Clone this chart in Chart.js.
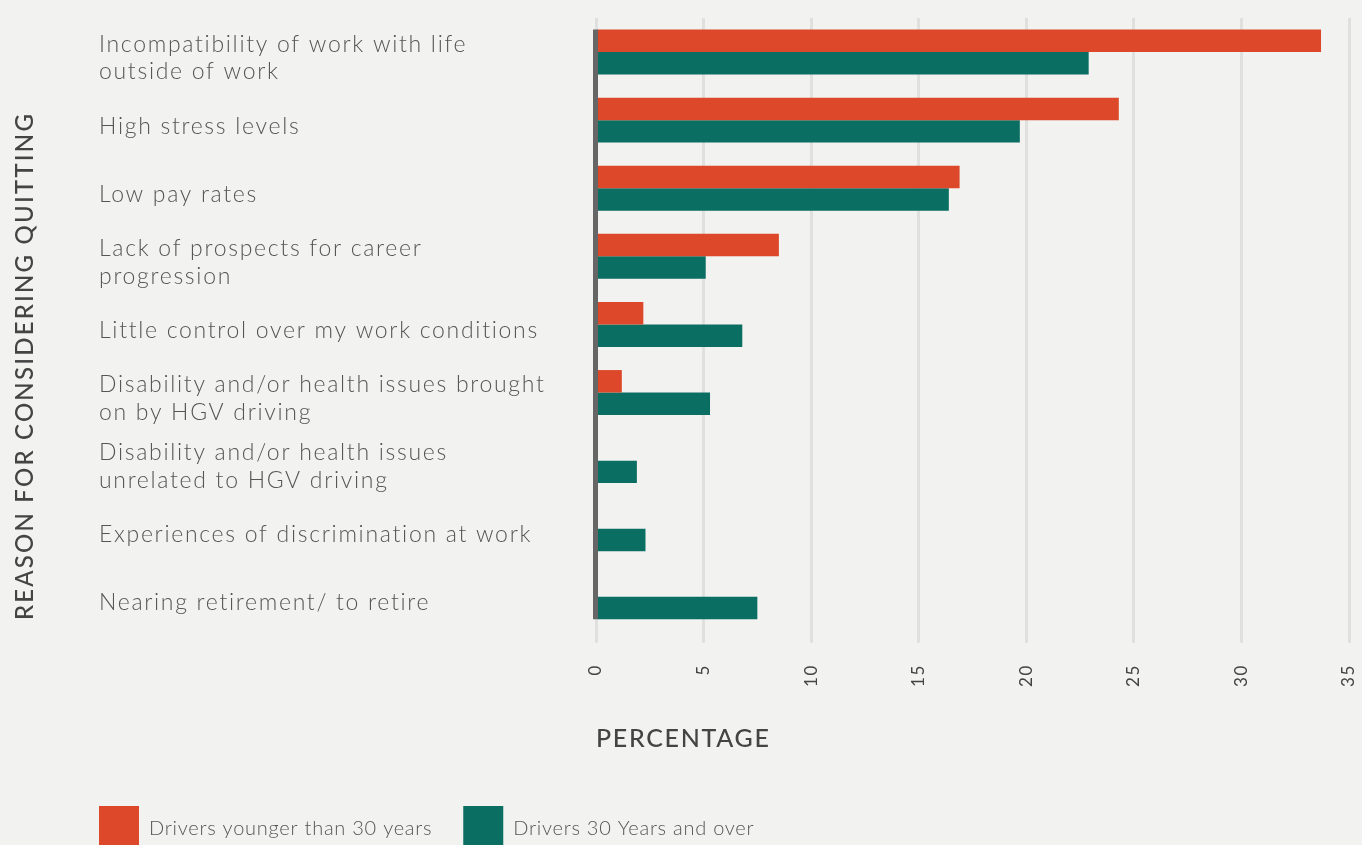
<!DOCTYPE html>
<html><head><meta charset="utf-8">
<script src="https://cdn.jsdelivr.net/npm/chart.js@4"></script>
<style>
html,body{margin:0;padding:0;background:#f2f2f0;overflow:hidden;}
#wrap{position:relative;width:1362px;height:862px;}
</style></head><body>
<div id="wrap"><canvas id="c" width="1362" height="862"></canvas></div>
<script>
const categories = [
  ["Incompatibility of work with life", "outside of work"],
  "High stress levels",
  "Low pay rates",
  ["Lack of prospects for career", "progression"],
  "Little control over my work conditions",
  ["Disability and/or health issues brought", "on by HGV driving"],
  ["Disability and/or health issues", "unrelated to HGV driving"],
  "Experiences of discrimination at work",
  "Nearing retirement/ to retire"
];
const seriesNames = ["Drivers younger than 30 years", "Drivers 30 Years and over"];
const under30 = [33.7, 24.3, 16.9, 8.5, 2.2, 1.2, 0, 0, 0];
const over30 = [22.9, 19.7, 16.4, 5.1, 6.8, 5.3, 1.9, 2.3, 7.5];
const xTicks = [0, 5, 10, 15, 20, 25, 30, 35];
const xTitle = "PERCENTAGE";
const yTitle = "REASON FOR CONSIDERING QUITTING";

const FONT = "Lato, 'Open Sans', sans-serif";
const LEGEND_PAD = 31;

function withSpacing(obj, name, spacing) {
  const orig = obj[name];
  obj[name] = function (...args) {
    const ctx = this.ctx;
    const prev = ctx.letterSpacing;
    ctx.letterSpacing = spacing;
    const r = orig.apply(this, args);
    ctx.letterSpacing = prev;
    return r;
  };
}

const spacingPlugin = {
  id: 'spacing',
  beforeUpdate(chart) {
    chart.ctx.letterSpacing = '1.7px';
    const lg = chart.legend;
    if (lg && !lg._spacingWrapped) {
      withSpacing(lg, 'fit', '0.75px');
      withSpacing(lg, 'draw', '0.75px');
      lg._spacingWrapped = true;
    }
  },
  beforeDraw(chart) { chart.ctx.letterSpacing = '1.7px'; },
  afterLayout(chart) { if (chart.legend) chart.legend.left -= LEGEND_PAD; }
};

// dark zero-axis line spanning the bars (from first bar top to last bar bottom)
const axisLinePlugin = {
  id: 'axisLine',
  afterDatasetsDraw(chart) {
    const first = chart.getDatasetMeta(0).data[0];
    const lastMeta = chart.getDatasetMeta(chart.data.datasets.length - 1).data;
    const last = lastMeta[lastMeta.length - 1];
    if (!first || !last) return;
    const x0 = chart.scales.x.getPixelForValue(0);
    const ctx = chart.ctx;
    ctx.save();
    ctx.strokeStyle = '#666';
    ctx.lineWidth = 5;
    ctx.beginPath();
    ctx.moveTo(x0 - 0.5, first.y - first.height / 2);
    ctx.lineTo(x0 - 0.5, last.y + last.height / 2);
    ctx.stroke();
    ctx.restore();
  }
};

const yTitlePlugin = {
  id: 'yTitle',
  afterDraw(chart) {
    const ctx = chart.ctx;
    ctx.save();
    ctx.letterSpacing = '2.2px';
    ctx.translate(25, 366);
    ctx.rotate(-Math.PI / 2);
    ctx.font = "500 24px " + FONT;
    ctx.fillStyle = '#444';
    ctx.textAlign = 'center';
    ctx.textBaseline = 'middle';
    ctx.fillText(yTitle, 0, 0);
    ctx.restore();
  }
};

new Chart(document.getElementById('c'), {
  type: 'bar',
  data: {
    labels: categories,
    datasets: [
      { label: seriesNames[0], data: under30, backgroundColor: '#dc4829', borderWidth: 0 },
      { label: seriesNames[1], data: over30, backgroundColor: '#0a6e62', borderWidth: 0 }
    ]
  },
  options: {
    indexAxis: 'y',
    responsive: false,
    animation: false,
    categoryPercentage: 0.66,
    barPercentage: 1,
    layout: { padding: { left: 99, right: 0, top: 18, bottom: 0 } },
    plugins: {
      tooltip: { enabled: false },
      legend: {
        position: 'bottom',
        align: 'start',
        labels: {
          boxWidth: 40, boxHeight: 46, padding: LEGEND_PAD,
          color: '#555',
          font: { family: FONT, size: 20, weight: 300 }
        }
      }
    },
    scales: {
      x: {
        min: xTicks[0], max: xTicks[xTicks.length - 1],
        afterBuildTicks(scale) { scale.ticks = xTicks.map(v => ({ value: v })); },
        afterFit(scale) { scale.paddingRight = 13; },
        grid: { color: '#e0e0de', lineWidth: 3, tickLength: 12, drawTicks: true },
        border: { display: false },
        ticks: {
          minRotation: 90, maxRotation: 90, padding: 21,
          color: '#444',
          font: { family: FONT, size: 17, weight: 400 }
        },
        title: {
          display: true, text: xTitle, align: 'start',
          color: '#444',
          font: { family: FONT, size: 25, weight: 500 },
          padding: { top: 16, bottom: 21 }
        }
      },
      y: {
        afterFit(scale) { scale.width = 497; },
        grid: { display: false },
        border: { display: false },
        ticks: {
          crossAlign: 'far', padding: 0, labelOffset: 6,
          color: '#555',
          font: { family: FONT, size: 23, weight: 300, lineHeight: 1.2 }
        }
      }
    }
  },
  plugins: [spacingPlugin, axisLinePlugin, yTitlePlugin]
});
</script>
</body></html>
